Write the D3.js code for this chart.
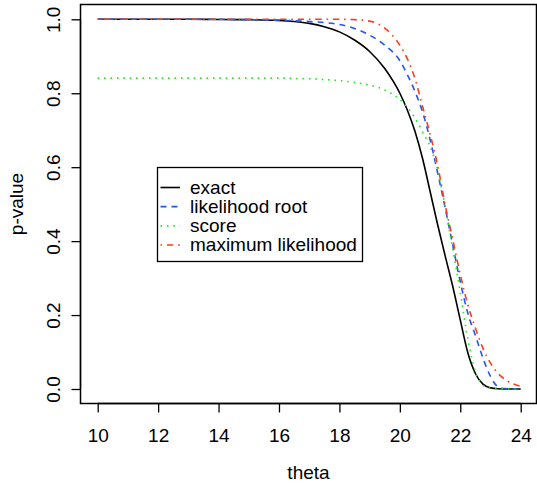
<!DOCTYPE html>
<html>
<head>
<meta charset="utf-8">
<script src="https://cdn.jsdelivr.net/npm/d3@7"></script>
<style>
  html, body { margin: 0; padding: 0; background: #fff; }
  svg text { font-family: "Liberation Sans", Arial, Helvetica, sans-serif; fill: #000; }
</style>
</head>
<body>
<div id="chart"></div>
<script>
// ---- data ----
const theta = [10,11,12,13,14,15,16,16.5,17,17.5,18,18.5,19,19.5,20,20.25,20.5,20.75,21,21.25,21.5,21.75,22,22.25,22.5,22.75,23,23.25,23.5,23.75,24];
const exact = [1,1,1,1,0.9995,0.999,0.997,0.994,0.989,0.98,0.966,0.944,0.913,0.867,0.80,0.754,0.697,0.624,0.535,0.445,0.36,0.278,0.187,0.098,0.042,0.013,0.003,0.0005,0,0,0];
const likelihoodRoot = [1,1,1,1,1,0.999,0.997,0.996,0.994,0.991,0.986,0.975,0.957,0.93,0.888,0.85,0.805,0.75,0.675,0.585,0.49,0.39,0.29,0.205,0.145,0.084,0.034,0.006,0.001,0,0];
const score = [0.841,0.841,0.841,0.841,0.841,0.841,0.841,0.840,0.839,0.837,0.834,0.829,0.822,0.809,0.783,0.762,0.733,0.696,0.656,0.593,0.492,0.379,0.262,0.135,0.048,0.01,0.002,0,0,0,0];
const maxLikelihood = [1,1,1,1,1,1,1,1,1,1,1,0.999,0.995,0.976,0.93,0.893,0.84,0.765,0.69,0.605,0.498,0.405,0.31,0.228,0.165,0.11,0.07,0.042,0.025,0.014,0.007];
const xTicks = [10,12,14,16,18,20,22,24];
const yTicks = [0.0,0.2,0.4,0.6,0.8,1.0];
const seriesNames = ["exact","likelihood root","score","maximum likelihood"];

const series = [
  {name: seriesNames[0], values: exact, color: "#000000", dash: null},
  {name: seriesNames[1], values: likelihoodRoot, color: "#2456ee", dash: "6,5"},
  {name: seriesNames[2], values: score, color: "#19f019", dash: "1.6,4.8"},
  {name: seriesNames[3], values: maxLikelihood, color: "#f4401c", dash: "1.6,4.8,6.4,4.8"}
];

// ---- layout ----
const W = 537, H = 483;
const box = {left: 80.5, right: 536.5, top: 4.5, bottom: 403.5};
const fs = 19;

const svg = d3.select("#chart").append("svg")
  .attr("width", W).attr("height", H);

const x = d3.scaleLinear().domain([10, 24]).range([97.7, 520.7]);
const y = d3.scaleLinear().domain([0, 1]).range([389, 19.3]);

// curves
const line = d3.line()
  .x((d, i) => x(theta[i]))
  .y(d => y(d))
  .curve(d3.curveMonotoneX);

series.forEach(s => {
  svg.append("path")
    .attr("d", line(s.values))
    .attr("fill", "none")
    .attr("stroke", s.color)
    .attr("stroke-width", 1.6)
    .attr("stroke-dasharray", s.dash);
});

// box
svg.append("rect")
  .attr("x", box.left).attr("y", box.top)
  .attr("width", box.right - box.left).attr("height", box.bottom - box.top)
  .attr("fill", "none").attr("stroke", "#000").attr("stroke-width", 1.5);

// x axis
const xAxis = d3.axisBottom(x).tickValues(xTicks).tickSize(9).tickPadding(16)
  .tickFormat(d3.format("d"));
const gx = svg.append("g").attr("transform", `translate(0,${box.bottom})`).call(xAxis);
gx.select(".domain").attr("d", `M${x(10)},0H${x(24)}`).attr("stroke-width", 1.3);
gx.selectAll(".tick line").attr("stroke-width", 1.3);
gx.selectAll("text").attr("font-size", fs).attr("font-family", null);

// y axis
const yAxis = d3.axisLeft(y).tickValues(yTicks).tickSize(9).tickPadding(0)
  .tickFormat(d3.format(".1f"));
const gy = svg.append("g").attr("transform", `translate(${box.left},0)`).call(yAxis);
gy.select(".domain").attr("d", `M0,${y(0)}V${y(1)}`).attr("stroke-width", 1.3);
gy.selectAll(".tick line").attr("stroke-width", 1.3);
gy.selectAll("text")
  .attr("font-size", fs).attr("font-family", null)
  .attr("x", null).attr("dy", null)
  .attr("text-anchor", "middle")
  .attr("transform", "translate(-20.5,0) rotate(-90)");

// axis titles
svg.append("text").attr("x", (box.left + box.right) / 2).attr("y", 479)
  .attr("text-anchor", "middle").attr("font-size", fs).text("theta");
svg.append("text")
  .attr("transform", `translate(23,${(box.top + box.bottom) / 2}) rotate(-90)`)
  .attr("text-anchor", "middle").attr("font-size", fs).text("p-value");

// legend
const lg = {left: 157.5, top: 167.5, right: 362.5, bottom: 261.5};
svg.append("rect").attr("x", lg.left).attr("y", lg.top)
  .attr("width", lg.right - lg.left).attr("height", lg.bottom - lg.top)
  .attr("fill", "#fff").attr("stroke", "#000").attr("stroke-width", 1.3);
const rowY = d3.scalePoint().domain(seriesNames).range([187.5, 245]);
series.forEach(s => {
  const yy = rowY(s.name);
  svg.append("line").attr("x1", 160.5).attr("x2", 180).attr("y1", yy).attr("y2", yy)
    .attr("stroke", s.color).attr("stroke-width", 1.6).attr("stroke-dasharray", s.dash);
  svg.append("text").attr("x", 190).attr("y", yy + 6.3)
    .attr("font-size", fs).text(s.name);
});
</script>
</body>
</html>
